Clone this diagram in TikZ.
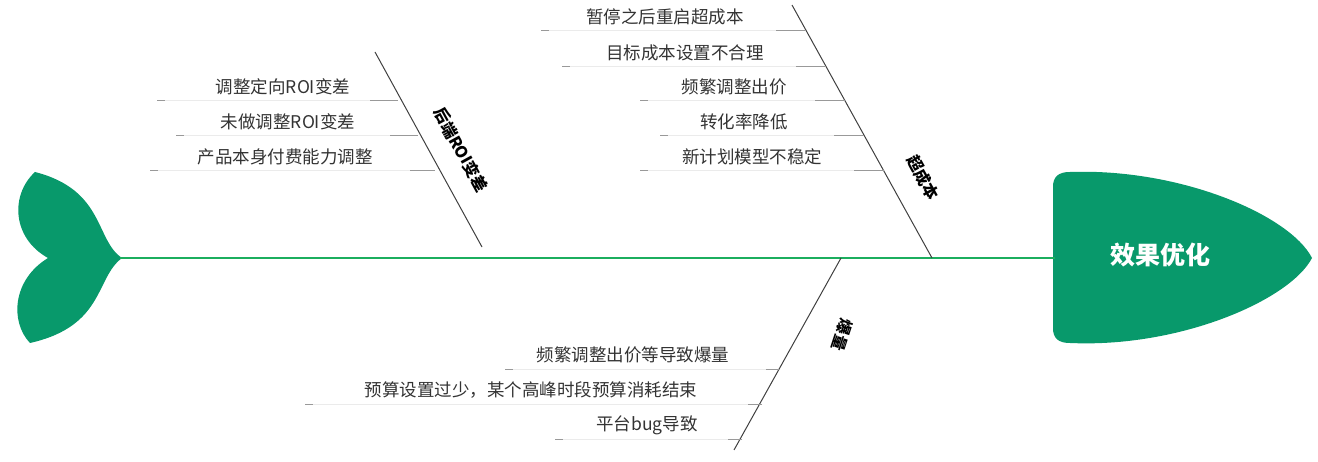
\documentclass[tikz,border=0pt]{standalone}
\usepackage{fontspec}
\setmainfont{Noto Sans CJK SC}
\begin{document}
\begin{tikzpicture}[x=1pt,y=-1pt,
  cause/.style={font=\fontsize{17.5}{19}\selectfont,text=black!80,inner sep=0pt},
  bonelab/.style={font=\fontsize{16}{18}\selectfont\bfseries,text=black,inner sep=0pt},
  bone/.style={draw=black!75,line width=1pt},
  tick/.style={draw=black!40,line width=0.8pt},
  faint/.style={draw=black!8,line width=0.6pt}]
\definecolor{fishgreen}{HTML}{08996B}
\definecolor{spinegreen}{HTML}{1BAE5E}
\useasboundingbox (0,0) rectangle (1318,462);
% head
\path[fill=fishgreen] (1070,172) .. controls (1180,168) and (1290,215) .. (1312,258)
  .. controls (1290,300) and (1180,348) .. (1070,343)
  .. controls (1058,343) and (1053,338) .. (1053,328) -- (1053,187)
  .. controls (1053,177) and (1058,172) .. (1070,172) -- cycle;
\node[font=\fontsize{25}{27}\selectfont\bfseries,text=white] (head) at (1160,255) {效果优化};
% tail
\path[fill=fishgreen] (122,258) .. controls (95,240) and (105,190) .. (35,172)
  .. controls (10,195) and (12,238) .. (48,258)
  .. controls (12,280) and (10,322) .. (30,343)
  .. controls (105,326) and (95,278) .. (122,258) -- cycle;
\coordinate (tail) at (120,258);
\coordinate (spineend) at (1055,258);
\draw[spinegreen,line width=2.5pt] (tail) -- (spineend);
% bone 1
\coordinate (b1a) at (375,52); \coordinate (b1b) at (482,247);
\draw[bone] (b1a) -- (b1b);
\node[bonelab,rotate=-61.2] (l1) at (461,150) {后端ROI变差};
\foreach \y/\xl/\xs/\xe/\t/\cx [count=\i] in {100/157/370/398/调整定向ROI变差/283, 135/176/390/418/未做调整ROI变差/288, 170/150/410/435/产品本身付费能力调整/285}{
  \coordinate (d1\i) at (\xl,\y); \coordinate (s1\i) at (\xs,\y); \coordinate (e1\i) at (\xe,\y);
  \draw[faint] (d1\i) -- (e1\i);
  \draw[tick] (d1\i) -- ++(8,0);
  \draw[tick] (s1\i) -- (e1\i);
  \node[cause] (t1\i) at (\cx,\y-13) {\t};
}
% bone 2
\coordinate (b2a) at (792,5); \coordinate (b2b) at (932,258);
\draw[bone] (b2a) -- (b2b);
\node[bonelab,rotate=-61] (l2) at (923,178) {超成本};
\foreach \y/\xl/\xe/\t/\cx [count=\i] in {30/541/806/暂停之后重启超成本/665, 66/562/826/目标成本设置不合理/685, 100/640/845/频繁调整出价/734, 135/660/864/转化率降低/744, 170/640/884/新计划模型不稳定/752}{
  \coordinate (d2\i) at (\xl,\y); \coordinate (e2\i) at (\xe,\y);
  \draw[faint] (d2\i) -- (e2\i);
  \draw[tick] (d2\i) -- ++(8,0);
  \draw[tick] (e2\i) -- ++(-30,0);
  \node[cause] (t2\i) at (\cx,\y-13) {\t};
}
% bone 3
\coordinate (b3a) at (841,258); \coordinate (b3b) at (734,450);
\draw[bone] (b3a) -- (b3b);
\node[bonelab,rotate=-108] (l3) at (842,335) {爆量};
\foreach \y/\xl/\xe/\t/\cx [count=\i] in {369/505/780/频繁调整出价等导致爆量/633, 404/305/762/预算设置过少，某个高峰时段预算消耗结束/531, 439/555/742/平台bug导致/647}{
  \coordinate (d3\i) at (\xl,\y); \coordinate (e3\i) at (\xe,\y);
  \draw[faint] (d3\i) -- (e3\i);
  \draw[tick] (d3\i) -- ++(8,0);
  \draw[tick] (e3\i) -- ++(-14,0);
  \node[cause] (t3\i) at (\cx,\y-14) {\t};
}
\end{tikzpicture}
\end{document}
